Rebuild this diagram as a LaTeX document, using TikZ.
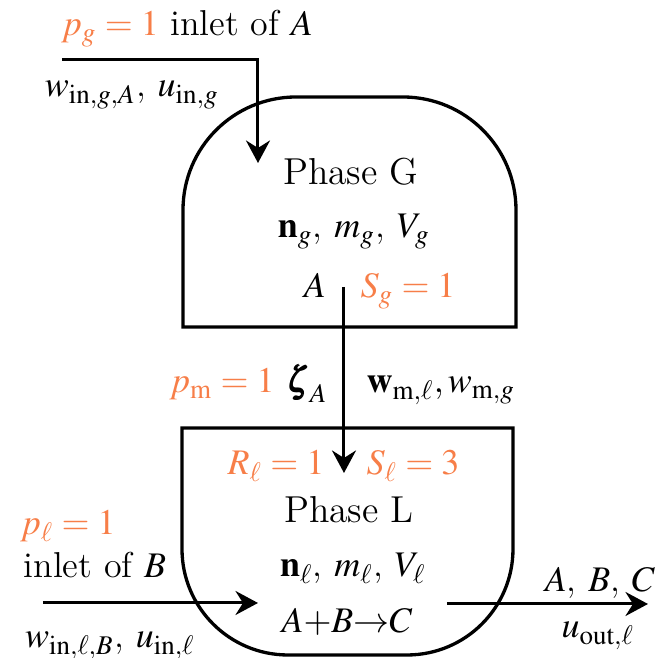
\documentclass[tikz,border=0pt]{standalone}
\usepackage{amsmath,amssymb}
\usepackage{mathptmx}
\usepackage{bm}
\usepackage{xcolor}
\usepackage{tikz}
\usetikzlibrary{arrows.meta,positioning,calc}
\definecolor{paramcolor}{RGB}{247,126,72}

\begin{document}
\begin{tikzpicture}[
    x=0.3333pt, y=0.3333pt,
    phase/.style={line width=1.1pt},
    flow/.style={-{Stealth[length=7.5pt, width=8pt, inset=2.5pt]}, line width=1pt},
    txt/.style={font=\fontsize{12}{14}\selectfont, inner sep=0pt, anchor=base},
    title/.style={txt, font=\fontsize{12.5}{15}\selectfont},
    param/.style={txt, text=paramcolor}
]
\useasboundingbox (0,0) rectangle (670,658);

% Phases
\draw[phase] (183,331) -- (183,448) arc[start angle=180, end angle=90, radius=113]
    -- (403,561) arc[start angle=90, end angle=0, radius=113] -- (516,331) -- cycle;
\draw[phase] (182,230) -- (182,109) arc[start angle=180, end angle=270, radius=106]
    -- (407,3) arc[start angle=270, end angle=360, radius=106] -- (513,230) -- cycle;

% Phase G contents
\node[title] (titleG) at (351,473) {Phase G};
\node[txt] (stateG) at (354,420) {$\mathbf{n}_g$, $m_g$, $V_g$};
\node[txt] (specA) at (315,360) {$A$};
\node[param] (spG) at (408,360) {$S_g=1$};

% Phase L contents
\node[param] (rxL) at (276,183) {$R_\ell=1$};
\node[param] (spL) at (413,183) {$S_\ell=3$};
\node[title] (titleL) at (349,135) {Phase L};
\node[txt] (stateL) at (353,81) {$\mathbf{n}_\ell$, $m_\ell$, $V_\ell$};
\node[txt] (rxn) at (347,25) {$A{+}B{\rightarrow}C$};

% Mass transfer labels
\node[param] (pm) at (222,265) {$p_{\mathrm{m}}=1$};
\node[txt] (zeta) at (307,265) {$\bm{\zeta}_A$};
\node[txt] (wm) at (441,265) {$\mathbf{w}_{\mathrm{m},\ell},w_{\mathrm{m},g}$};

% Inlet / outlet labels
\node[txt] (inletA) at (187,622) {\textcolor{paramcolor}{$p_g=1$} inlet of $A$};
\node[txt] (winA) at (132,561) {$w_{\mathrm{in},g,A}$, $u_{\mathrm{in},g}$};
\node[param] (pl) at (68,123) {$p_\ell=1$};
\node[txt] (inletB) at (95,80) {inlet of $B$};
\node[txt] (winB) at (110,10) {$w_{\mathrm{in},\ell,B}$, $u_{\mathrm{in},\ell}$};
\node[txt] (prod) at (600,66) {$A$, $B$, $C$};
\node[txt] (uout) at (598,20) {$u_{\mathrm{out},\ell}$};

% Streams
\coordinate (inA) at (62,598);
\coordinate (inAend) at (258,495);
\coordinate (mG) at (344,371);
\coordinate (mL) at (344,185);
\coordinate (inB) at (43,55);
\coordinate (inBend) at (258,55);
\coordinate (outL) at (447,54);
\coordinate (outLend) at (648,54);
\draw[flow] (inA) -| (inAend);
\draw[flow] (mG) -- (mL);
\draw[flow] (inB) -- (inBend);
\draw[flow] (outL) -- (outLend);
\end{tikzpicture}
\end{document}
